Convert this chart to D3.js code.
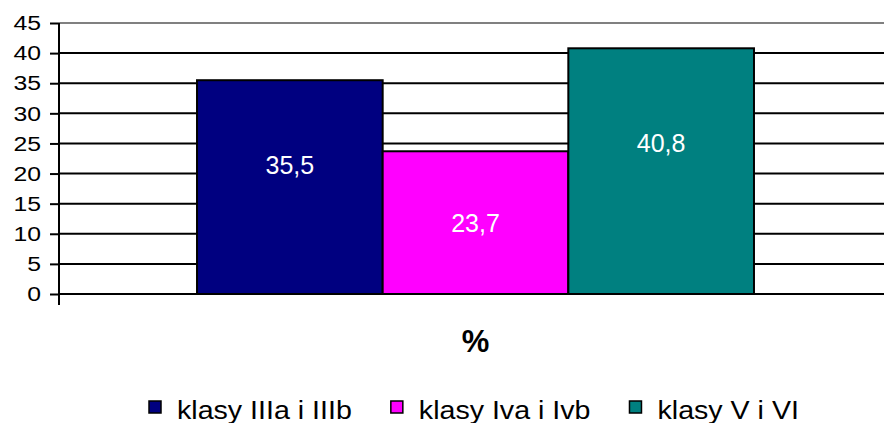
<!DOCTYPE html>
<html>
<head>
<meta charset="utf-8">
<script src="https://cdnjs.cloudflare.com/ajax/libs/d3/7.8.5/d3.min.js"></script>
<style>
  body { margin: 0; background: #fff; }
  svg { display: block; font-family: Arial, "Liberation Sans", sans-serif; }
</style>
</head>
<body>
<svg id="chart" width="884" height="423"></svg>
<script>
// data
var groups = ["%"];
var categories = ["klasy IIIa i IIIb", "klasy Iva i Ivb", "klasy V i VI"];
var values = [35.5, 23.7, 40.8];
var valueLabels = ["35,5", "23,7", "40,8"];
var labelAt = [21.4, 11.8, 25.1];   // where the data labels sit, in value units
var colors = ["#000080", "#ff00ff", "#008080"];
var yTicks = [0, 5, 10, 15, 20, 25, 30, 35, 40, 45];

var svg = d3.select("#chart");
var plotLeft = 59, plotRight = 892, plotTop = 23, plotBottom = 294;

var y = d3.scaleLinear().domain([0, 45]).range([plotBottom, plotTop]);
var x0 = d3.scaleBand().domain(groups).range([plotLeft, plotRight])
    .paddingInner(0).paddingOuter(0.2478);
var x1 = d3.scaleBand().domain(categories).range([0, x0.bandwidth()]);

// gridlines
svg.append("g").selectAll("line")
    .data(yTicks)
    .join("line")
    .attr("x1", plotLeft).attr("x2", 884)
    .attr("y1", d => y(d)).attr("y2", d => y(d))
    .attr("stroke", d => d == 45 ? "#808080" : "#000")
    .attr("stroke-width", 2);

// y axis
var tickScale = 1.18;
var yAxis = d3.axisLeft(y).tickValues(yTicks).tickSize(9);
var ga = svg.append("g").attr("transform", "translate(" + plotLeft + ",0)").call(yAxis);
ga.select(".domain").remove();
ga.selectAll(".tick line").attr("stroke", "#000").attr("stroke-width", 2);
ga.selectAll(".tick text")
    .attr("fill", "#000")
    .style("font-size", "21px")
    .attr("x", -18 / tickScale)
    .attr("transform", "scale(" + tickScale + ",1)");
ga.append("line")
    .attr("x1", 0).attr("x2", 0)
    .attr("y1", plotTop).attr("y2", 305)
    .attr("stroke", "#000").attr("stroke-width", 2);

// bars
var g = svg.append("g").attr("transform", "translate(" + x0("%") + ",0)");
g.selectAll("rect")
    .data(values)
    .join("rect")
    .attr("x", (d, i) => x1(categories[i]))
    .attr("y", d => y(d))
    .attr("width", x1.bandwidth())
    .attr("height", d => y(0) - y(d))
    .attr("fill", (d, i) => colors[i])
    .attr("stroke", "#000")
    .attr("stroke-width", 2);

g.selectAll("text.lbl")
    .data(valueLabels)
    .join("text")
    .attr("class", "lbl")
    .attr("x", (d, i) => x1(categories[i]) + x1.bandwidth() / 2)
    .attr("y", (d, i) => y(labelAt[i]))
    .attr("dy", "0.35em")
    .attr("text-anchor", "middle")
    .attr("fill", "#fff")
    .style("font-size", "25px")
    .text(d => d);

// category label
svg.append("text")
    .attr("x", x0("%") + x0.bandwidth() / 2)
    .attr("y", 352)
    .attr("text-anchor", "middle")
    .style("font-size", "31px")
    .style("font-weight", "bold")
    .text(groups[0]);

// legend
var legScale = 1.1;
var leg = svg.append("g");
var items = leg.selectAll("g")
    .data(categories)
    .join("g");
items.append("rect")
    .attr("width", 12).attr("height", 12)
    .attr("y", 401)
    .attr("fill", (d, i) => colors[i])
    .attr("stroke", "#000")
    .attr("stroke-width", 1.5);
items.append("text")
    .attr("x", 28 / legScale)
    .attr("y", 419)
    .attr("transform", "scale(" + legScale + ",1)")
    .style("font-size", "26px")
    .text(d => d);

var pos = 149;
items.each(function () {
    var w = d3.select(this).select("text").node().getComputedTextLength() * legScale;
    d3.select(this).attr("transform", "translate(" + pos + ",0)");
    pos += 28 + w + 39;
});
</script>
</body>
</html>
